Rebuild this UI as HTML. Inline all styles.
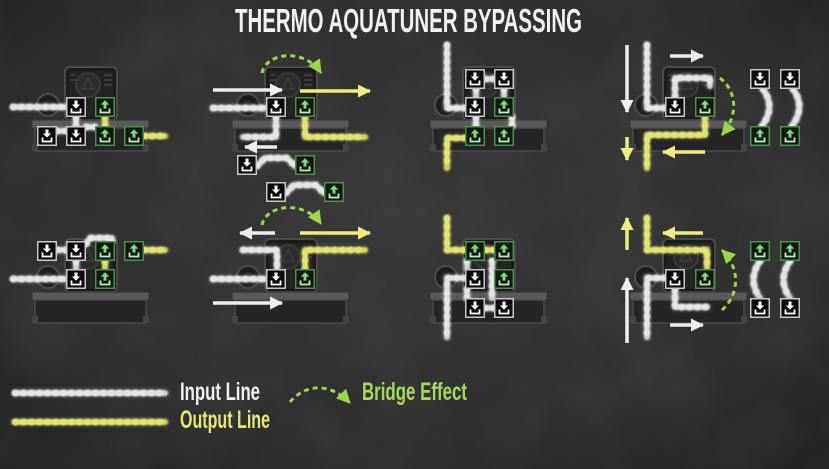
<!DOCTYPE html>
<html><head><meta charset="utf-8"><style>
html,body{margin:0;padding:0;background:#2f2f2f;}
svg{display:block;}
text{font-family:"Liberation Sans",sans-serif;font-weight:bold;}
</style></head><body>
<svg width="829" height="469" viewBox="0 0 829 469" xmlns="http://www.w3.org/2000/svg">
<defs>
<radialGradient id="bg" cx="50%" cy="45%" r="70%">
<stop offset="0" stop-color="#373737"/><stop offset="0.7" stop-color="#2f2f2f"/><stop offset="1" stop-color="#242424"/>
</radialGradient>
<filter id="noise" x="0" y="0" width="100%" height="100%">
<feTurbulence type="fractalNoise" baseFrequency="0.012" numOctaves="3" seed="4"/>
<feColorMatrix type="matrix" values="0 0 0 0 1  0 0 0 0 1  0 0 0 0 1  0 0 0 0.6 -0.2"/>
</filter>
<filter id="soft" x="-5%" y="-5%" width="110%" height="110%"><feGaussianBlur stdDeviation="0.7"/></filter>
<marker id="mw" markerWidth="13" markerHeight="13" refX="12" refY="6.5" orient="auto" markerUnits="userSpaceOnUse"><path d="M0,0 L13,6.5 L0,13 z" fill="#eeeeee"/></marker>
<marker id="my" markerWidth="13" markerHeight="13" refX="12" refY="6.5" orient="auto" markerUnits="userSpaceOnUse"><path d="M0,0 L13,6.5 L0,13 z" fill="#eeee80"/></marker>
<marker id="mg" markerWidth="14" markerHeight="14" refX="13" refY="7" orient="auto" markerUnits="userSpaceOnUse"><path d="M0,0 L14,7 L0,14 z" fill="#9ad64e"/></marker>

<g id="bd">
<rect x="65" y="67" width="52" height="53" rx="5" fill="#1c1c1c" stroke="#4a4a4a" stroke-width="2"/>
<rect x="69" y="71" width="44" height="45" rx="3" fill="#232323"/>
<circle cx="88" cy="85" r="12" fill="#2c2c2c" stroke="#3a3a3a" stroke-width="2"/>
<path d="M88 78 L94 89 H82 Z" fill="none" stroke="#3c3c3c" stroke-width="1.5"/>
<rect x="104" y="74" width="8" height="2" fill="#3e3e3e"/>
<rect x="104" y="79" width="8" height="2" fill="#3e3e3e"/>
<rect x="104" y="84" width="8" height="2" fill="#3e3e3e"/>
<rect x="70" y="74" width="6" height="2" fill="#383838"/>
<rect x="70" y="79" width="6" height="2" fill="#383838"/>
<circle cx="48" cy="105" r="11" fill="#1d1d1d" stroke="#4c4c4c" stroke-width="2"/>
<circle cx="48" cy="105" r="5" fill="#2a2a2a"/>
<rect x="32" y="120" width="117" height="8" fill="#5a5a5a" stroke="#333" stroke-width="1"/>
<rect x="35" y="128" width="111" height="23" fill="#252525" stroke="#4a4a4a" stroke-width="1.5"/>
<rect x="32" y="144" width="6" height="7" fill="#444"/>
<rect x="143" y="144" width="6" height="7" fill="#444"/>
</g>

<g id="bi">
<rect x="0.75" y="0.75" width="18.5" height="18.5" fill="#0b0b0b" stroke="#c8c8c8" stroke-width="1.5"/>
<path d="M8.5 3.5h3v4h2.6l-4.1 4.1-4.1-4.1h2.6z" fill="#ffffff"/>
<path d="M5.5 11.5v4h9v-4" fill="none" stroke="#ffffff" stroke-width="1.8"/>
</g>
<g id="bo">
<rect x="0.75" y="0.75" width="18.5" height="18.5" fill="#0e1a0e" stroke="#4f8f4f" stroke-width="1.5"/>
<path d="M10 3.3l4.3 4.3h-2.8v4h-3v-4h-2.8z" fill="#80d880"/>
<path d="M5.5 11.5v4h9v-4" fill="none" stroke="#c8e8c8" stroke-width="1.8"/>
</g>

<path id="wp" d="M13 107 H66 M76 117 V127 M57 131 H66 M86 127 H95
M213 108 H266 M276 117 V137 H243 M257 166 L265 158 H287 L295 166 M286 193 L294 185 H316 L324 193
M447 45 V108 H465 M485 79 H494 M476 89 V97 M504 89 V97 M476 117 V126 M512 117 V126
M647 45 V108 H665 M675 97 V78 H710 V86 M763 89 Q776 107 762 126 M793 89 Q806 107 792 126
M13 279 H66 M76 261 V269 M57 250 H66 M86 244 L90 238 H112 V241
M213 279 H266 M243 250 H277 V269
M465 278 H447 V337 M467 261 V269 M492 261 V298 M467 289 V298 M485 308 H494
M665 278 H647 V337 M675 289 V307 H707 M760 261 Q747 280 760 298 M790 261 Q777 280 790 298
M15 393 H165"/>
<path id="yp" d="M105 117 V126 M144 136 H165
M305 117 V137 H365
M465 138 H447 V168
M705 117 V135 H647 V168
M105 261 V269 M144 250 H165
M305 269 V250 H365
M447 218 V250 H465 M485 250 H494
M647 218 V250 H707 V269
M15 422 H165"/>
</defs>

<rect width="829" height="469" fill="url(#bg)"/>
<rect width="829" height="469" filter="url(#noise)" opacity="0.12"/>

<text x="235" y="32" font-size="33" fill="#f2f2f2" textLength="347" lengthAdjust="spacingAndGlyphs">THERMO AQUATUNER BYPASSING</text>

<use href="#bd"/>
<use href="#bd" x="200"/>
<use href="#bd" x="398"/>
<use href="#bd" x="598"/>
<use href="#bd" y="172"/>
<use href="#bd" x="200" y="172"/>
<use href="#bd" x="398" y="172"/>
<use href="#bd" x="598" y="172"/>

<g filter="url(#soft)">
<use href="#wp" fill="none" stroke="#ffffff" stroke-opacity="0.12" stroke-width="10" stroke-linecap="round" stroke-linejoin="round"/>
<use href="#wp" fill="none" stroke="#d2d2d2" stroke-width="6" stroke-linecap="round" stroke-linejoin="round"/>
<use href="#wp" fill="none" stroke="#e6e6e6" stroke-width="7" stroke-linecap="round" stroke-dasharray="1 7"/>
<use href="#yp" fill="none" stroke="#eeee70" stroke-opacity="0.12" stroke-width="10" stroke-linecap="round" stroke-linejoin="round"/>
<use href="#yp" fill="none" stroke="#d2d262" stroke-width="6" stroke-linecap="round" stroke-linejoin="round"/>
<use href="#yp" fill="none" stroke="#e4e476" stroke-width="7" stroke-linecap="round" stroke-dasharray="1 7"/>
</g>

<use href="#bi" x="66" y="97"/><use href="#bi" x="37" y="126"/><use href="#bi" x="66" y="126"/>
<use href="#bi" x="266" y="97"/><use href="#bi" x="237" y="155"/><use href="#bi" x="266" y="182"/>
<use href="#bi" x="465" y="69"/><use href="#bi" x="494" y="69"/><use href="#bi" x="465" y="97"/>
<use href="#bi" x="665" y="97"/><use href="#bi" x="750" y="69"/><use href="#bi" x="780" y="69"/>
<use href="#bi" x="37" y="241"/><use href="#bi" x="66" y="241"/><use href="#bi" x="66" y="269"/>
<use href="#bi" x="266" y="269"/>
<use href="#bi" x="465" y="269"/><use href="#bi" x="465" y="298"/><use href="#bi" x="494" y="298"/>
<use href="#bi" x="665" y="269"/><use href="#bi" x="750" y="298"/><use href="#bi" x="780" y="298"/>

<use href="#bo" x="95" y="97"/><use href="#bo" x="95" y="126"/><use href="#bo" x="124" y="126"/>
<use href="#bo" x="295" y="97"/><use href="#bo" x="295" y="155"/><use href="#bo" x="324" y="182"/>
<use href="#bo" x="494" y="97"/><use href="#bo" x="465" y="126"/><use href="#bo" x="494" y="126"/>
<use href="#bo" x="695" y="97"/><use href="#bo" x="750" y="126"/><use href="#bo" x="780" y="126"/>
<use href="#bo" x="95" y="241"/><use href="#bo" x="124" y="241"/><use href="#bo" x="95" y="269"/>
<use href="#bo" x="295" y="269"/>
<use href="#bo" x="465" y="241"/><use href="#bo" x="494" y="241"/><use href="#bo" x="494" y="269"/>
<use href="#bo" x="695" y="269"/><use href="#bo" x="750" y="241"/><use href="#bo" x="780" y="241"/>

<g fill="none" stroke="#eeeeee" stroke-width="3.5" marker-end="url(#mw)">
<path d="M213 90 H282"/>
<path d="M277 147 H245"/>
<path d="M627 45 V112"/>
<path d="M670 56 H703"/>
<path d="M275 233 H240"/>
<path d="M213 303 H282"/>
<path d="M627 343 V278"/>
<path d="M670 325 H703"/>
</g>
<g fill="none" stroke="#eeee80" stroke-width="3.5" marker-end="url(#my)">
<path d="M300 91 H370"/>
<path d="M627 137 V160"/>
<path d="M705 152 H663"/>
<path d="M300 233 H370"/>
<path d="M627 250 V218"/>
<path d="M703 233 H663"/>
</g>
<g fill="none" stroke="#9ad64e" stroke-width="3" stroke-dasharray="5 4" marker-end="url(#mg)">
<path d="M262 73 C266 52 305 48 321 73"/>
<path d="M720 78 C733 88 742 110 722 135"/>
<path d="M262 225 C266 204 305 200 321 224"/>
<path d="M722 310 C738 296 742 270 722 250"/>
<path d="M290 402 C305 384 330 382 350 403"/>
</g>

<text x="180" y="400" font-size="25" fill="#f0f0f0" textLength="80" lengthAdjust="spacingAndGlyphs">Input Line</text>
<text x="180" y="428" font-size="25" fill="#e6e67a" textLength="90" lengthAdjust="spacingAndGlyphs">Output Line</text>
<text x="362" y="400" font-size="25" fill="#a4da5c" textLength="105" lengthAdjust="spacingAndGlyphs">Bridge Effect</text>
</svg>
</body></html>
